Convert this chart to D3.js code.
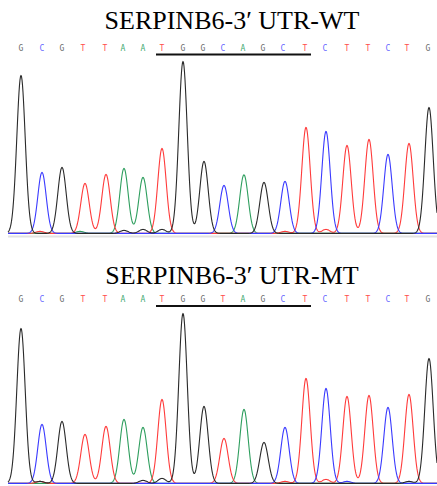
<!DOCTYPE html>
<html>
<head>
<meta charset="utf-8">
<script src="https://cdn.jsdelivr.net/npm/d3@7"></script>
<style>
  body { margin: 0; background: #fff; }
  svg { display: block; }
</style>
</head>
<body>
<div id="chart"></div>
<script>
"use strict";

var width = 437;
var height = 486;

// base calls and their peak positions (scan units)
var wtBases = ["G","C","G","T","T","A","A","T","G","G","C","A","G","C","T","C","T","T","C","T","G"];
var mtBases = ["G","C","G","T","T","A","A","T","G","G","T","A","G","C","T","C","T","T","C","T","G"];
var peakPos = [21, 42, 62, 85, 106, 124, 143, 162, 183, 204, 224, 244, 264, 285, 306, 326, 347, 369, 388, 409, 429];
var letterPos = [21, 42, 62, 83, 105, 123, 143, 162, 183, 203, 223, 243, 263, 283, 305, 325, 347, 368, 388, 407, 428];
var wtHeights = [158, 61, 66, 50, 59, 65, 56, 85, 172, 72, 48, 58, 51, 52, 106, 102, 88, 92, 79, 90, 126];
var mtHeights = [155, 59, 62, 49, 57, 64, 56, 84, 170, 77, 45, 74, 41, 56, 105, 95, 87, 88, 76, 89, 125];
// small background bumps: [base, position, height]
var wtNoise = [["T", 40, 2], ["A", 80, 2], ["G", 124, 3], ["G", 143, 4], ["G", 162, 4], ["T", 285, 2], ["T", 326, 4], ["A", 240, 1], ["T", 369, 2]];
var mtNoise = [["T", 40, 2], ["G", 40, 2], ["G", 143, 3], ["G", 162, 5], ["T", 285, 2], ["T", 326, 4], ["C", 347, 2], ["G", 409, 2]];
var underlineRange = [8, 14];   // underlined base indices
var titles = ["SERPINB6-3\u2032 UTR-WT", "SERPINB6-3\u2032 UTR-MT"];

var traceColor = { "G": "#2a2a2a", "A": "#2e9e5e", "T": "#ff3b3b", "C": "#3a3aff" };
var letterColor = { "G": "#6a6a6a", "A": "#3faa72", "T": "#ff4d4d", "C": "#6a6aff" };
var drawOrder = ["A", "T", "C", "G"];

var x = d3.scaleLinear().domain([0, 437]).range([0, 437]);
var sigma = 4.2;

var svg = d3.select("#chart").append("svg")
  .attr("width", width).attr("height", height)
  .attr("viewBox", "0 0 " + width + " " + height);

function drawPanel(title, bases, heights, noise, titleY, letterY, lineY, baseY) {
  var g = svg.append("g");
  var y = d3.scaleLinear().domain([0, 172]).range([baseY, baseY - 172]);

  g.append("text")
    .attr("x", 232).attr("y", titleY)
    .attr("text-anchor", "middle")
    .style("font-family", "'Liberation Serif', 'Times New Roman', serif")
    .style("font-size", "26px")
    .attr("fill", "#000")
    .text(title);

  g.selectAll(".base").data(bases).enter().append("text")
    .attr("class", "base")
    .attr("x", function (d, i) { return x(letterPos[i]); })
    .attr("y", letterY)
    .attr("text-anchor", "middle")
    .style("font-family", "'DejaVu Sans Mono', monospace")
    .style("font-size", "8px")
    .attr("fill", function (d) { return letterColor[d]; })
    .text(function (d) { return d; });

  g.append("line")
    .attr("x1", x(letterPos[underlineRange[0]]) - 27)
    .attr("x2", x(letterPos[underlineRange[1]]) + 6)
    .attr("y1", lineY).attr("y2", lineY)
    .attr("stroke", "#111").attr("stroke-width", 2);

  // light grey floor line
  g.append("rect")
    .attr("x", 8).attr("y", baseY + 1.5)
    .attr("width", width - 8).attr("height", 2)
    .attr("fill", "#e2e2e2");

  var xs = d3.range(8, 437.5, 0.5);
  drawOrder.forEach(function (b) {
    var pts = xs.map(function (px) {
      var v = 0.6;
      bases.forEach(function (d, i) {
        if (d !== b) return;
        var dx = px - peakPos[i];
        v += heights[i] * Math.exp(-dx * dx / (2 * sigma * sigma));
      });
      noise.forEach(function (n) {
        if (n[0] !== b) return;
        var dx = px - n[1];
        v += n[2] * Math.exp(-dx * dx / (2 * 4 * 4));
      });
      return [px, v];
    });
    var line = d3.line()
      .x(function (d) { return x(d[0]); })
      .y(function (d) { return y(d[1]); });
    g.append("path")
      .datum(pts)
      .attr("d", line)
      .attr("fill", "none")
      .attr("stroke", traceColor[b])
      .attr("stroke-width", 1.1)
      .attr("stroke-linejoin", "round");
  });
}

drawPanel(titles[0], wtBases, wtHeights, wtNoise, 29, 50.5, 54.5, 234);
drawPanel(titles[1], mtBases, mtHeights, mtNoise, 284, 301.5, 306, 484);
</script>
</body>
</html>
